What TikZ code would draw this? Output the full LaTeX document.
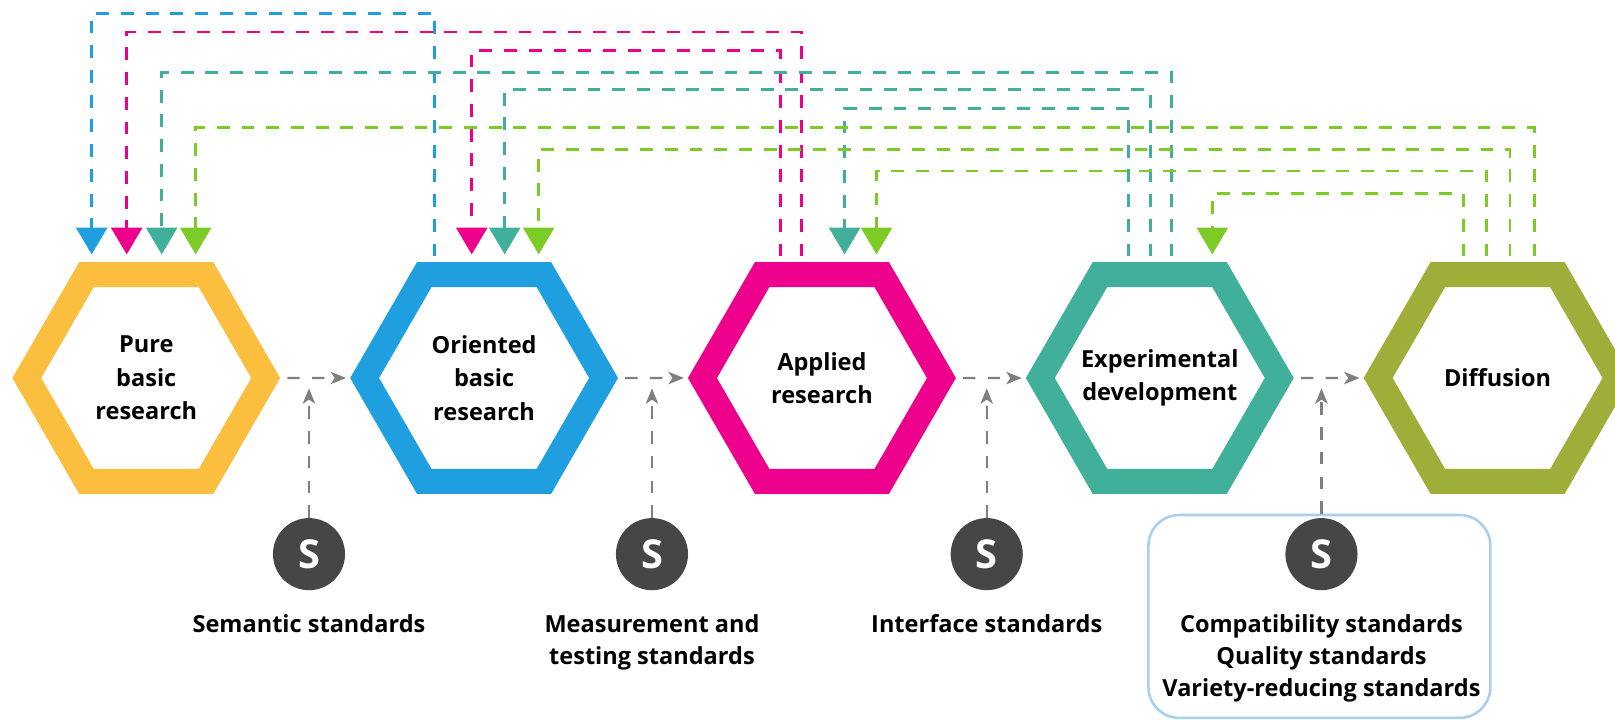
\documentclass[tikz,border=0pt]{standalone}
\usepackage{fontspec}
\setmainfont{Open Sans}
\usepackage{tikz}
\usetikzlibrary{arrows.meta,calc,positioning,shapes.geometric}

\definecolor{hexyellow}{HTML}{FBBE3F}
\definecolor{hexblue}{HTML}{1F9FE0}
\definecolor{hexmagenta}{HTML}{EC008C}
\definecolor{hexteal}{HTML}{40B09A}
\definecolor{hexolive}{HTML}{9EAE38}
\definecolor{linklime}{HTML}{7CCB27}
\definecolor{hintgray}{HTML}{7F7F7F}
\definecolor{sdark}{HTML}{464646}
\definecolor{groupblue}{HTML}{A9CFEF}

\begin{document}
\begin{tikzpicture}[
  x=0.2mm,y=-0.2mm,
  hexa/.style={regular polygon,regular polygon sides=6,minimum size=46.4mm,line width=4.86mm,draw=#1,fill=white,inner sep=-6mm,outer sep=0pt,align=center,font=\bfseries\fontsize{13}{18.5}\selectfont},
  link/.style={draw=#1,line width=0.55mm,dash pattern=on 2.5mm off 2.3mm,-{Triangle[width=6mm,length=5.2mm]}},
  hint/.style={draw=hintgray,line width=0.4mm,dash pattern=on 2.4mm off 2.4mm,-{Stealth[length=3mm,width=2.4mm,inset=0.8mm]}},
  std/.style={circle,fill=sdark,minimum size=14mm,inner sep=0pt,text=white,font=\bfseries\fontsize{22}{22}\selectfont},
  stdlabel/.style={align=center,inner sep=0pt,font=\bfseries\fontsize{13}{17.8}\selectfont},
  group/.style={draw=groupblue,line width=0.5mm,rounded corners=6mm,minimum width=66.4mm,minimum height=39.4mm}
]
\clip (0,0) rectangle (1568,699);
% stages
\node[hexa=hexyellow] (pure) at (142,367) {Pure\\basic\\research};
\node[hexa=hexblue] (oriented) at (470,367) {Oriented\\basic\\research};
\node[hexa=hexmagenta] (applied) at (798,367) {Applied\\research};
\node[hexa=hexteal] (experimental) at (1126,367) {Experimental\\development};
\node[hexa=hexolive] (diffusion) at (1454,367) {Diffusion};
% feedback loops
\draw[link=hexblue] ($(oriented.center)+(-48,-118)$) |- ($(pure.center)+(-53,-354)$) -- ($(pure.center)+(-53,-120)$);
\draw[link=hexmagenta] ($(applied.center)+(-20,-118)$) |- ($(pure.center)+(-19,-336)$) -- ($(pure.center)+(-19,-120)$);
\draw[link=hexmagenta] ($(applied.center)+(-40,-118)$) |- ($(oriented.center)+(-12,-318)$) -- ($(oriented.center)+(-12,-120)$);
\draw[link=hexteal] ($(experimental.center)+(11,-118)$) |- ($(pure.center)+(15,-297)$) -- ($(pure.center)+(15,-120)$);
\draw[link=hexteal] ($(experimental.center)+(-9,-118)$) |- ($(oriented.center)+(20,-280)$) -- ($(oriented.center)+(20,-120)$);
\draw[link=hexteal] ($(experimental.center)+(-30,-118)$) |- ($(applied.center)+(22,-262)$) -- ($(applied.center)+(22,-120)$);
\draw[link=linklime] ($(diffusion.center)+(36,-118)$) |- ($(pure.center)+(48,-243)$) -- ($(pure.center)+(48,-120)$);
\draw[link=linklime] ($(diffusion.center)+(12,-118)$) |- ($(oriented.center)+(53,-222)$) -- ($(oriented.center)+(53,-120)$);
\draw[link=linklime] ($(diffusion.center)+(-11,-118)$) |- ($(applied.center)+(53,-201)$) -- ($(applied.center)+(53,-120)$);
\draw[link=linklime] ($(diffusion.center)+(-33,-118)$) |- ($(experimental.center)+(51,-179)$) -- ($(experimental.center)+(51,-120)$);
% standards
\node[group] (group) at (1281,598.5) {};
\node[std] (s1) at (300,538) {S};
\node[std] (s2) at (633,538) {S};
\node[std] (s3) at (958,538) {S};
\node[std] (s4) at (1283,538) {S};
\node[stdlabel,below=4.6mm of s1] (l1) {Semantic standards};
\node[stdlabel,below=4.6mm of s2] (l2) {Measurement and\\testing standards};
\node[stdlabel,below=4.6mm of s3] (l3) {Interface standards};
\node[stdlabel,below=4.6mm of s4] (l4) {Compatibility standards\\Quality standards\\Variety-reducing standards};
\coordinate (j1) at (300,377); \coordinate (j2) at (633,377); \coordinate (j3) at (958,377); \coordinate (j4) at (1283,377);
\draw[hint,shorten <=4.2mm,shorten >=3.6mm] (pure) -- (oriented); \draw[hint,shorten <=4.2mm,shorten >=3.6mm] (oriented) -- (applied);
\draw[hint,shorten <=4.2mm,shorten >=3.6mm] (applied) -- (experimental); \draw[hint,shorten <=4.2mm,shorten >=3.6mm] (experimental) -- (diffusion);
\draw[hint] (s1) -- (j1); \draw[hint] (s2) -- (j2); \draw[hint] (s3) -- (j3); \draw[hint] (group.north -| s4) -- (j4);
\end{tikzpicture}
\end{document}
